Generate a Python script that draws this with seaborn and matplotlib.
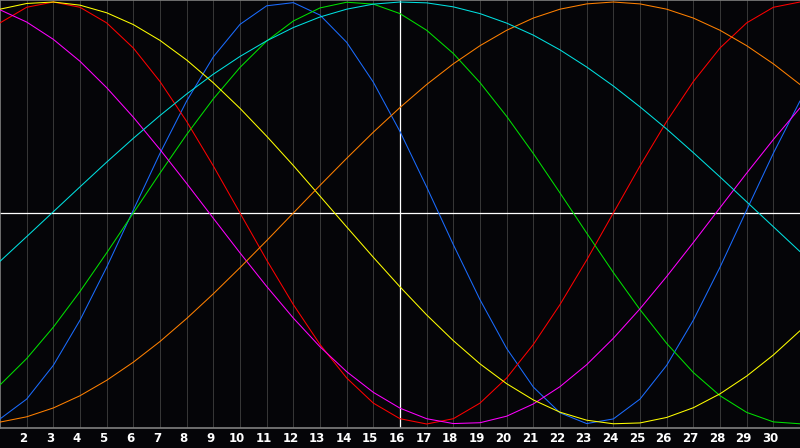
import pandas as pd
import matplotlib
matplotlib.use("Agg")
import matplotlib.pyplot as plt
import matplotlib.transforms as mtransforms
import seaborn as sns

# days shown on the chart
days = list(range(1, 32))
tick_days = list(range(2, 31))

# cycle values per day (-1 .. 1)
physical = [-0.976, -0.882, -0.722, -0.508, -0.257, 0.014, 0.283, 0.531, 0.740, 0.894,
            0.982, 0.997, 0.938, 0.809, 0.620, 0.386, 0.123, -0.150, -0.411, -0.642,
            -0.825, -0.947, -0.998, -0.976, -0.882, -0.722, -0.508, -0.257, 0.014, 0.283, 0.531]
emotional = [0.901, 0.975, 1.0, 0.975, 0.901, 0.782, 0.623, 0.434, 0.223, 0.0,
             -0.223, -0.434, -0.623, -0.782, -0.901, -0.975, -1.0, -0.975, -0.901, -0.782,
             -0.623, -0.434, -0.223, 0.0, 0.223, 0.434, 0.623, 0.782, 0.901, 0.975, 1.0]
intellectual = [-0.815, -0.690, -0.541, -0.372, -0.189, 0.0, 0.189, 0.372, 0.541, 0.690,
                0.815, 0.910, 0.972, 0.999, 0.990, 0.945, 0.866, 0.756, 0.618, 0.458,
                0.282, 0.095, -0.095, -0.282, -0.458, -0.618, -0.756, -0.866, -0.945, -0.990, -0.999]
intuitive = [0.963, 0.905, 0.823, 0.719, 0.594, 0.454, 0.301, 0.140, -0.025, -0.189,
             -0.348, -0.498, -0.634, -0.752, -0.850, -0.925, -0.975, -0.998, -0.994, -0.963,
             -0.905, -0.823, -0.719, -0.594, -0.454, -0.301, -0.140, 0.025, 0.189, 0.348, 0.498]
aesthetic = [0.966, 0.993, 1.0, 0.985, 0.949, 0.893, 0.818, 0.725, 0.617, 0.496,
             0.364, 0.225, 0.080, -0.066, -0.210, -0.350, -0.483, -0.605, -0.715, -0.809,
             -0.886, -0.944, -0.982, -0.999, -0.995, -0.969, -0.923, -0.857, -0.773, -0.673, -0.558]
awareness = [-0.991, -0.966, -0.924, -0.866, -0.793, -0.707, -0.609, -0.500, -0.383, -0.259,
             -0.131, 0.0, 0.131, 0.259, 0.383, 0.500, 0.609, 0.707, 0.793, 0.866,
             0.924, 0.966, 0.991, 1.0, 0.991, 0.966, 0.924, 0.866, 0.793, 0.707, 0.609]
spiritual = [-0.229, -0.112, 0.006, 0.124, 0.241, 0.354, 0.462, 0.564, 0.658, 0.742,
             0.816, 0.879, 0.929, 0.966, 0.990, 1.0, 0.996, 0.977, 0.945, 0.900,
             0.843, 0.773, 0.692, 0.602, 0.503, 0.398, 0.286, 0.171, 0.053, -0.065, -0.183]

cycles = ['physical', 'emotional', 'intellectual', 'intuitive',
          'aesthetic', 'awareness', 'spiritual']
colors = ['#1a6cff', '#ff0000', '#00e000', '#ff00ff',
          '#ffff00', '#ff8000', '#00e0e0']

series = [physical, emotional, intellectual, intuitive, aesthetic, awareness, spiritual]
rows = []
for name, vals in zip(cycles, series):
    for d, v in zip(days, vals):
        rows.append({'day': d, 'value': v, 'cycle': name})
df = pd.DataFrame(rows)

sns.set_style("dark")
plt.rcParams['font.family'] = ['DejaVu Sans']

fig = plt.figure(figsize=(8, 4.48), dpi=100)
fig.patch.set_facecolor('#050508')
ax = fig.add_axes([0, 20 / 448, 1, 428 / 448])
ax.set_facecolor('#050508')

# day grid
for d in tick_days:
    ax.axvline(d, color='#363636', lw=0.75, zorder=0)
ax.axvline(16, color='white', lw=0.9, zorder=1)
ax.axhline(0, color='white', lw=0.9, zorder=1)

sns.lineplot(data=df, x='day', y='value', hue='cycle', hue_order=cycles,
             palette=colors, legend=False, lw=0.75, ax=ax, zorder=3)

ax.set_xlim(1, 31)
ax.set_ylim(-1.019, 1.0095)
ax.set_xticks(tick_days)
ax.set_xticklabels([str(d) for d in tick_days], color='white',
                   fontsize=8.5, fontweight='bold')
ax.tick_params(axis='x', length=0, pad=3)
# labels sit a little left of their grid line
shift = mtransforms.ScaledTranslation(-3 / 100, 0, fig.dpi_scale_trans)
for lab in ax.get_xticklabels():
    lab.set_transform(lab.get_transform() + shift)
ax.set_yticks([])
ax.set_xlabel('')
ax.set_ylabel('')
ax.grid(False)
for side in ['left', 'top', 'bottom']:
    ax.spines[side].set_visible(True)
    ax.spines[side].set_color('#808080')
    ax.spines[side].set_linewidth(1.2)
ax.spines['right'].set_visible(False)

fig.savefig('out.png', dpi=100, facecolor=fig.get_facecolor())
